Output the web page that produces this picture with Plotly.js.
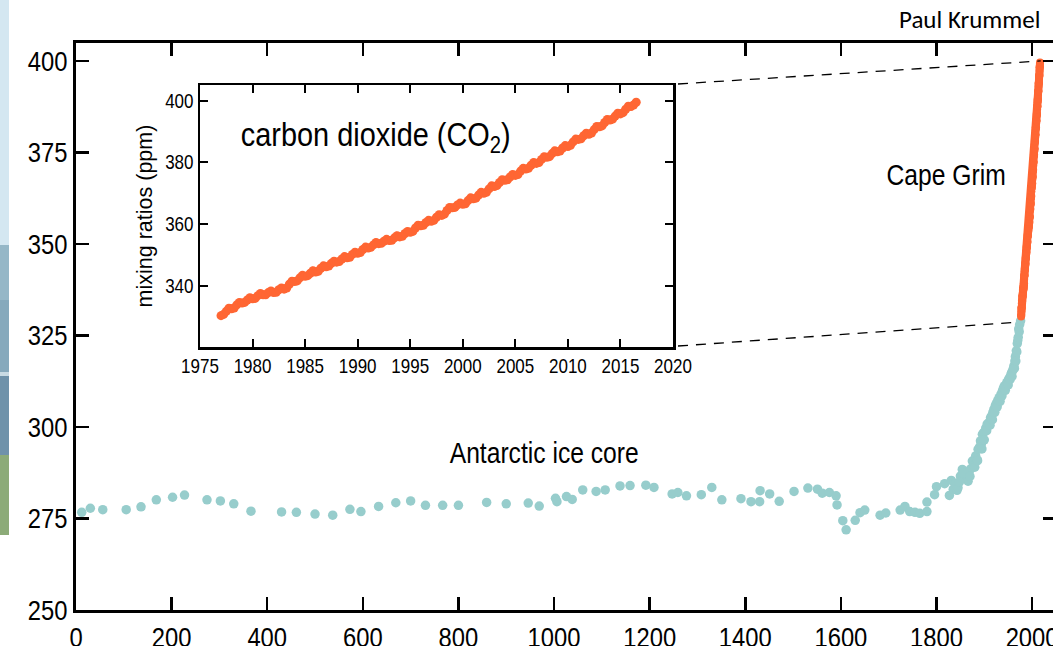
<!DOCTYPE html>
<html>
<head>
<meta charset="utf-8">
<script src="https://cdn.plot.ly/plotly-3.0.1.min.js"></script>
<style>
html,body{margin:0;padding:0;overflow:hidden;background:#fff;}
#chart{width:1070px;height:680px;}
</style>
</head>
<body>
<div id="chart"></div>
<script>
// Antarctic ice core (Law Dome) CO2, year AD and ppm
const iceYears = [12,30,56,105,136,168,202,227,274,302,330,366,430,461,500,537,573,596,633,669,700,731,767,800,859,900,946,969,
1003,1006,1026,1038,1060,1088,1107,1138,1159,1192,1209,1247,1259,1277,1308,1330,1351,1391,1412,1430,1431,1451,1471,1502,1531,1551,1561,1576,1590,1592,1604,1611,1630,1640,1650,1682,1694,1724,1734,1744,1755,1765,1780,1780,1796,1800,1817,1827,1831,1835,1840,1843,
1845,1850,1854,1858,1862,1866,1868,1871,1875,1878,1882,1885,1887,1890,1892,1894,1896,1899,1903,1906,1910,1913,1915,1918,1920,1923,1925,1928,1931,1935,1938,1940,1942,1945,1947,1949,1951,1953,1955,1957,1959,1961,1962,1964,1965,1967,1969,1970,1972,1974,
1848,1856,1870,1880,1886,1895,1900,1905,1912,1917,1922,1927,1933,1937,1944,1950,1954,1958,1963,1966,1968,1971,1973,1976];
const icePpm = [276.7,277.8,277.4,277.4,278.2,280.1,280.8,281.4,280.1,279.8,279.0,277.0,276.8,276.7,276.2,275.9,277.5,276.9,278.3,279.3,279.8,278.6,278.6,278.6,279.4,279.0,279.2,278.4,
280.5,279.6,281.0,280.2,282.8,282.4,282.8,283.9,284.0,284.1,283.5,281.7,282.1,281.2,281.5,283.5,280.1,280.4,279.6,279.6,282.6,281.7,279.7,282.4,283.3,283.0,281.9,282.1,281.2,278.7,274.4,271.9,274.5,276.6,277.3,275.9,276.5,277.3,278.3,276.9,276.7,276.4,276.9,279.5,281.5,283.7,284.5,281.3,285.4,283.0,284.5,282.7,
283.4,286.6,288.4,286.0,286.8,285.2,287.0,288.5,290.7,289.6,292.1,291.0,293.9,294.5,296.2,295.4,298.0,298.5,299.7,300.8,301.2,302.5,303.0,304.0,304.8,305.8,306.4,307.2,308.0,309.0,309.9,310.6,311.2,311.0,312.1,312.4,313.1,313.4,314.0,314.8,315.3,316.0,316.7,318.0,319.2,320.8,322.8,323.6,326.8,328.0,
285.0,287.4,286.5,289.0,290.8,294.0,296.5,299.0,300.5,302.0,304.0,305.5,307.0,308.5,310.0,311.5,313.0,313.8,316.0,318.0,320.5,324.5,326.0,329.0];

// Cape Grim quarterly CO2 (ppm), from 1977.0 in steps of a quarter year
const grimStart = 1977;
const grimStep = 0.25;
const grimPpm = [
330.2,330.6,331.6,332.6, 332.4,332.7,333.7,334.5, 334.3,334.5,335.3,336.0, 335.7,335.8,336.7,337.4,
337.0,337.0,337.7,338.2, 337.7,337.8,338.6,339.2, 338.8,339.2,340.4,341.4, 341.3,341.5,342.5,343.3,
343.0,343.2,344.0,344.8, 344.4,344.6,345.6,346.4, 346.1,346.3,347.2,347.9, 347.6,347.8,348.6,349.4,
349.0,349.2,350.1,350.8, 350.5,350.7,351.7,352.5, 352.2,352.4,353.2,354.0, 353.6,353.7,354.4,355.0,
354.6,354.7,355.5,356.2, 355.8,356.0,356.9,357.6, 357.3,357.6,358.7,359.6, 359.4,359.6,360.5,361.2,
360.9,361.2,362.2,363.0, 362.8,363.2,364.4,365.4, 365.3,365.4,366.2,366.8, 366.4,366.6,367.6,368.5,
368.2,368.4,369.4,370.3, 370.0,370.3,371.4,372.4, 372.2,372.5,373.5,374.4, 374.2,374.4,375.3,376.1,
375.8,376.1,377.2,378.1, 377.9,378.1,379.1,380.0, 379.7,380.0,381.0,381.9, 381.7,381.9,382.9,383.8,
383.5,383.7,384.7,385.5, 385.2,385.6,386.7,387.6, 387.5,387.7,388.7,389.5, 389.2,389.6,390.7,391.7,
391.6,391.9,393.0,394.0, 393.8,394.1,395.1,396.0, 395.8,396.2,397.3,398.3, 398.2,398.7,399.6];
const grimYears = grimPpm.map((v, i) => grimStart + i * grimStep);

const mainXTicks = [0,200,400,600,800,1000,1200,1400,1600,1800,2000];
const mainYTicks = [250,275,300,325,350,375,400];
const insetXTicks = [1975,1980,1985,1990,1995,2000,2005,2010,2015,2020];
const insetYTicks = [340,360,380,400];

// geometry (pixels of the figure)
const W = 1070, H = 680;
const M = {l: 76, r: 14, t: 43, b: 70};
const PW = W - M.l - M.r, PH = H - M.t - M.b;
const xRange = [0, 2050], yRange = [250, 404.9];
const px2paperX = p => (p - M.l) / PW;
const px2paperY = p => (H - M.b - p) / PH;
const dataPaperX = v => (v - xRange[0]) / (xRange[1] - xRange[0]);
const dataPaperY = v => (v - yRange[0]) / (yRange[1] - yRange[0]);

const inset = {x0: 200, x1: 673, y0: 85, y1: 347};
const insetDomX = [px2paperX(inset.x0), px2paperX(inset.x1)];
const insetDomY = [px2paperY(inset.y1), px2paperY(inset.y0)];

const TEAL = '#97cdcc';
const ORANGE = '#ff6633';
const SANS = '"Liberation Sans", Arial, sans-serif';
const NARROW_SCALE = 0.85;

const traces = [
  {x: iceYears, y: icePpm, type: 'scatter', mode: 'markers', xaxis: 'x', yaxis: 'y',
   marker: {color: TEAL, size: 9.5}, hoverinfo: 'skip'},
  {x: grimYears, y: grimPpm, type: 'scatter', mode: 'lines+markers', xaxis: 'x', yaxis: 'y',
   line: {color: ORANGE, width: 8}, marker: {color: ORANGE, size: 8}, hoverinfo: 'skip'},
  {x: grimYears, y: grimPpm, type: 'scatter', mode: 'lines+markers', xaxis: 'x2', yaxis: 'y2',
   line: {color: ORANGE, width: 7}, marker: {color: ORANGE, size: 9}, hoverinfo: 'skip'}
];

const axBase = {showgrid: false, zeroline: false, showline: true, linecolor: '#000',
  ticks: 'inside', tickcolor: '#000', mirror: 'ticks', fixedrange: true};

const strip = [
  [0, 245, '#d4e7f1'], [245, 300, '#95b7c7'], [300, 372, '#86a9bc'],
  [372, 376, '#c9dbe4'], [376, 455, '#6f92aa'], [455, 535, '#8cab78']
];
const shapes = strip.map(s => ({type: 'rect', xref: 'paper', yref: 'paper', layer: 'below',
  x0: px2paperX(0), x1: px2paperX(9), y0: px2paperY(s[1]), y1: px2paperY(s[0]),
  line: {width: 0}, fillcolor: s[2]}));

// dashed connectors from inset corners to the Cape Grim record in the main plot
shapes.push({type: 'line', xref: 'paper', yref: 'paper',
  x0: px2paperX(678), y0: px2paperY(84), x1: dataPaperX(2018), y1: dataPaperY(400),
  line: {color: '#000', width: 1.3, dash: '10px,8px'}});
shapes.push({type: 'line', xref: 'paper', yref: 'paper',
  x0: px2paperX(678), y0: px2paperY(346), x1: dataPaperX(1966), y1: dataPaperY(328.6),
  line: {color: '#000', width: 1.3, dash: '10px,8px'}});

const layout = {
  width: W, height: H,
  margin: M,
  paper_bgcolor: '#fff', plot_bgcolor: 'rgba(0,0,0,0)',
  showlegend: false,
  font: {family: SANS, color: '#000'},
  xaxis: Object.assign({}, axBase, {range: xRange, tickvals: mainXTicks, ticktext: mainXTicks.map(String),
    ticklen: 13, tickwidth: 2.5, linewidth: 3, tickfont: {size: 28}}),
  yaxis: Object.assign({}, axBase, {range: yRange, tickvals: mainYTicks, ticktext: mainYTicks.map(String),
    ticklen: 13, tickwidth: 2.5, linewidth: 3, tickfont: {size: 28}}),
  xaxis2: Object.assign({}, axBase, {domain: insetDomX, anchor: 'y2', range: [1975, 2020],
    tickvals: insetXTicks, ticktext: insetXTicks.map(String),
    ticklen: 8, tickwidth: 2, linewidth: 2.5, tickfont: {size: 20}}),
  yaxis2: Object.assign({}, axBase, {domain: insetDomY, anchor: 'x2', range: [320, 405.2],
    tickvals: insetYTicks, ticktext: insetYTicks.map(String),
    ticklen: 8, tickwidth: 2, linewidth: 2.5, tickfont: {size: 20},
    title: {text: 'mixing ratios (ppm)', font: {size: 21.5}, standoff: 2}}),
  shapes: shapes,
  annotations: [
    {xref: 'x', yref: 'y', x: 978, y: 292.8, text: 'Antarctic ice core', showarrow: false,
     font: {size: 29}, xanchor: 'center', yanchor: 'middle'},
    {xref: 'x', yref: 'y', x: 1819, y: 368.8, text: 'Cape Grim', showarrow: false,
     font: {size: 29}, xanchor: 'center', yanchor: 'middle'},
    {xref: 'x2', yref: 'y2', x: 1991.7, y: 388.5, text: 'carbon dioxide (CO<sub>2</sub>)', showarrow: false,
     font: {size: 34}, xanchor: 'center', yanchor: 'middle'},
    {xref: 'paper', yref: 'paper', x: px2paperX(1042), y: px2paperY(20), text: 'Paul Krummel', showarrow: false,
     font: {size: 25, family: 'Carlito, "Open Sans", "Noto Sans", sans-serif'}, xanchor: 'right', yanchor: 'middle'}
  ]
};

// The original figure uses a condensed sans face; compress Arial-metric text horizontally
// around each text's own anchor so widths match.
function condenseTexts(gd) {
  gd.querySelectorAll('svg text').forEach(t => {
    if (!t.textContent.trim()) return;
    if (t.closest('.g-y2title') || t.textContent === 'Paul Krummel') return;
    let bb;
    try { bb = t.getBBox(); } catch (e) { return; }
    const anchor = t.getAttribute('text-anchor') || 'start';
    const ax = anchor === 'middle' ? bb.x + bb.width / 2 : (anchor === 'end' ? bb.x + bb.width : bb.x);
    const tr = t.getAttribute('transform') || '';
    t.setAttribute('transform', tr + ' translate(' + ax + ',0) scale(' + NARROW_SCALE + ',1) translate(' + (-ax) + ',0)');
  });
}

Plotly.newPlot('chart', traces, layout, {staticPlot: true, displayModeBar: false}).then(condenseTexts);
</script>
</body>
</html>
